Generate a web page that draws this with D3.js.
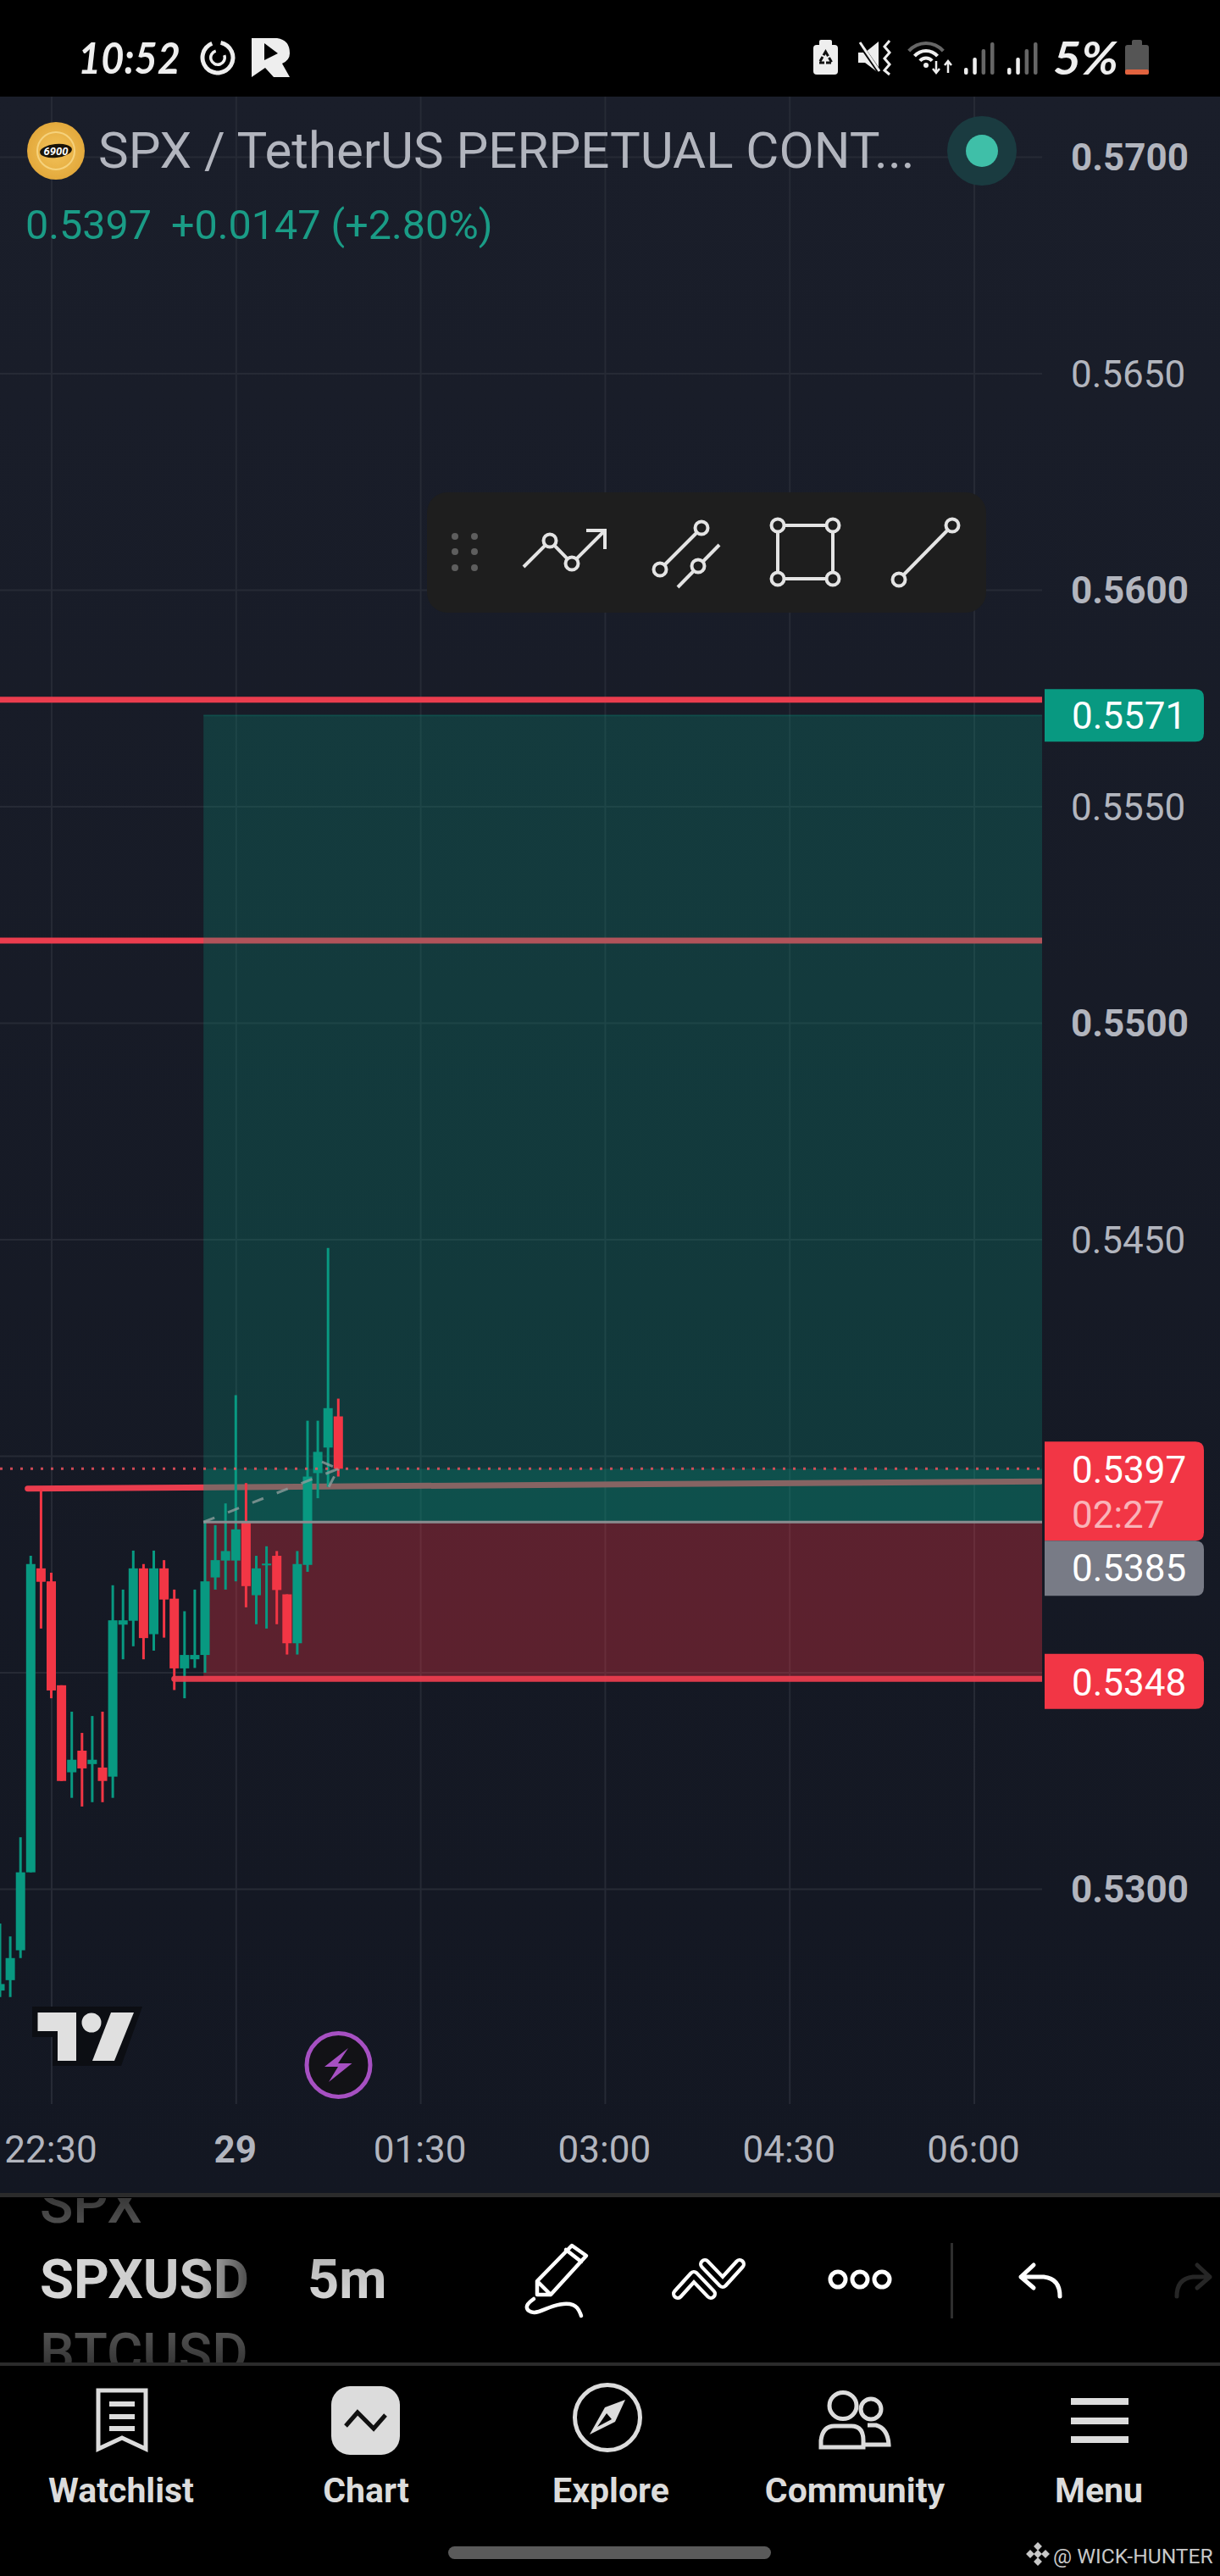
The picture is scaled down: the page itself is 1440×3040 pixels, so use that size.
<!DOCTYPE html>
<html>
<head>
<meta charset="utf-8">
<title>SPX / TetherUS</title>
<script src="https://cdn.jsdelivr.net/npm/d3@7"></script>
<style>
  html, body { margin: 0; padding: 0; background: #000; }
  svg { display: block; font-family: Roboto, sans-serif; }
</style>
</head>
<body>
<div id="chart"></div>
<script>
// candles, oldest first. first bar sits 5 bars left of the 22:30 tick
const firstBar = -5;
const opens = [0.52765, 0.52789, 0.52858, 0.53038, 0.53740, 0.53710, 0.53470, 0.53269, 0.53319, 0.53288, 0.53280, 0.53259,
  0.53610, 0.53619, 0.53740, 0.53588, 0.53740, 0.53670, 0.53509, 0.53530, 0.53540, 0.53719, 0.53758, 0.53758,
  0.53849, 0.53678, 0.53747, 0.53769, 0.53680, 0.53567, 0.53748, 0.53960, 0.54019, 0.54091];
const highs = [0.52920, 0.52890, 0.53119, 0.53769, 0.53924, 0.53730, 0.53470, 0.53409, 0.53360, 0.53399, 0.53409, 0.53701,
  0.53691, 0.53781, 0.53750, 0.53781, 0.53759, 0.53691, 0.53641, 0.53691, 0.53849, 0.53840, 0.53890, 0.54140,
  0.53937, 0.53769, 0.53791, 0.53780, 0.53680, 0.53780, 0.54081, 0.54081, 0.54480, 0.54132];
const lows = [0.52750, 0.52750, 0.52840, 0.53038, 0.53601, 0.53440, 0.53249, 0.53210, 0.53190, 0.53200, 0.53200, 0.53210,
  0.53530, 0.53560, 0.53530, 0.53550, 0.53580, 0.53459, 0.53440, 0.53510, 0.53499, 0.53691, 0.53691, 0.53710,
  0.53650, 0.53611, 0.53601, 0.53611, 0.53541, 0.53541, 0.53732, 0.53902, 0.53928, 0.53952];
const closes = [0.52780, 0.52840, 0.53038, 0.53750, 0.53709, 0.53458, 0.53249, 0.53298, 0.53278, 0.53298, 0.53249, 0.53620,
  0.53620, 0.53740, 0.53579, 0.53740, 0.53668, 0.53509, 0.53540, 0.53540, 0.53710, 0.53759, 0.53780, 0.53830,
  0.53699, 0.53740, 0.53751, 0.53690, 0.53567, 0.53750, 0.53952, 0.54009, 0.54110, 0.53970];

const priceTicks = [0.57, 0.565, 0.56, 0.555, 0.55, 0.545, 0.54, 0.535, 0.53];
const boldPrices = [0.57, 0.56, 0.55, 0.53];
const hiddenPrices = [0.54, 0.535]; // sit under the price tags
const timeTicks = [0, 18, 36, 54, 72, 90];
const timeLabels = ['22:30', '29', '01:30', '03:00', '04:30', '06:00'];

// drawn levels and long position tool
const levelLines = [0.55746, 0.5519];
const trendLine = [[-2.3, 0.53924], [96.5, 0.53941]];
const takeProfit = 0.5571;
const entry = 0.53847;
const stop = 0.53485;
const lastPrice = 0.5397;
const positionStart = 14.85;
const lastBar = 28;
const arrowWings = [[26.4, 0.53986], [27.07, 0.53928]];

const navLabels = ['Watchlist', 'Chart', 'Explore', 'Community', 'Menu'];
const navCenters = [143, 432, 721, 1009, 1297];

const GREEN = '#089981', RED = '#f23645', LINE_RED = '#ea3d4e', TEXT = '#b2b5be';
const W = 1440, H = 3040, plotRight = 1230, plotTop = 114, gridBottom = 2483;

const svg = d3.select('#chart').append('svg').attr('width', W).attr('height', H);
const defs = svg.append('defs');

const x = d3.scaleLinear().domain([0, 90]).range([60.5, 1149.5]);
const y = d3.scaleLinear().domain([0.53, 0.57]).range([2229, 185]);

function gradient(id, stops, x2, y2) {
    const g = defs.append('linearGradient').attr('id', id)
        .attr('x1', 0).attr('y1', 0).attr('x2', x2).attr('y2', y2);
    stops.forEach(s => g.append('stop').attr('offset', s[0]).attr('stop-color', s[1]));
}
gradient('bg', [[0, '#1a1e2a'], [1, '#131722']], 0, 1);
gradient('symbol', [[0, '#d8d8d8'], [0.75, '#c8c8c8'], [1, '#4a4a4a']], 1, 0);
gradient('interval', [[0, '#b0b0b0'], [1, '#dedede']], 0, 1);
gradient('dimTop', [[0, '#222'], [1, '#5a5a5a']], 0, 1);
gradient('dimBottom', [[0, '#5c5c5c'], [1, '#222']], 0, 1);
const coinGrad = defs.append('radialGradient').attr('id', 'coin');
coinGrad.append('stop').attr('offset', 0).attr('stop-color', '#f3c35a');
coinGrad.append('stop').attr('offset', 1).attr('stop-color', '#e3a93c');

defs.append('clipPath').attr('id', 'plotClip').append('rect')
    .attr('x', 0).attr('y', plotTop).attr('width', plotRight).attr('height', gridBottom - plotTop);
defs.append('clipPath').attr('id', 'pickerClip').append('rect')
    .attr('x', 0).attr('y', 2594).attr('width', 320).attr('height', 194);

// backgrounds
svg.append('rect').attr('width', W).attr('height', H).attr('fill', '#000');
svg.append('rect').attr('y', plotTop).attr('width', W).attr('height', 2589 - plotTop).attr('fill', 'url(#bg)');

// grid
const gridColor = '#262a35';
const hGrid = svg.append('g').call(d3.axisLeft(y).tickValues(priceTicks).tickSize(-plotRight).tickFormat(''));
const vGrid = svg.append('g').attr('transform', `translate(0,${gridBottom})`)
    .call(d3.axisBottom(x).tickValues(timeTicks).tickSize(-(gridBottom - plotTop)).tickFormat(''));
[hGrid, vGrid].forEach(g => {
    g.select('.domain').remove();
    g.selectAll('line').attr('stroke', gridColor).attr('stroke-width', 2);
});

// horizontal levels go under the position box, the box tints them
const plot = svg.append('g').attr('clip-path', 'url(#plotClip)');
plot.selectAll('.level').data(levelLines).join('line').attr('class', 'level')
    .attr('x1', 0).attr('x2', plotRight)
    .attr('y1', d => y(d)).attr('y2', d => y(d))
    .attr('stroke', LINE_RED).attr('stroke-width', 7);
plot.append('line')
    .attr('x1', x(trendLine[0][0])).attr('y1', y(trendLine[0][1]))
    .attr('x2', x(trendLine[1][0])).attr('y2', y(trendLine[1][1]))
    .attr('stroke', LINE_RED).attr('stroke-width', 7).attr('stroke-linecap', 'round');

// position box
const boxX = x(positionStart), boxW = plotRight - boxX;
function zone(p0, p1, color, alpha) {
    plot.append('rect').attr('x', boxX).attr('width', boxW)
        .attr('y', y(p0)).attr('height', y(p1) - y(p0))
        .attr('fill', color).attr('fill-opacity', alpha);
}
zone(takeProfit, entry, GREEN, 0.25);
zone(lastPrice, entry, GREEN, 0.25);
zone(entry, stop, RED, 0.32);
plot.append('line').attr('x1', boxX).attr('x2', plotRight)
    .attr('y1', y(takeProfit)).attr('y2', y(takeProfit))
    .attr('stroke', GREEN).attr('stroke-opacity', 0.25).attr('stroke-width', 2);

// candles
const bars = opens.map((o, i) => ({ i: firstBar + i, o, h: highs[i], l: lows[i], c: closes[i] }));
const color = d => d.c >= d.o ? GREEN : RED;
plot.selectAll('.wick').data(bars).join('line').attr('class', 'wick')
    .attr('x1', d => x(d.i)).attr('x2', d => x(d.i))
    .attr('y1', d => y(d.h)).attr('y2', d => y(d.l))
    .attr('stroke', color).attr('stroke-width', 3);
plot.selectAll('.body').data(bars).join('rect').attr('class', 'body')
    .attr('x', d => x(d.i) - 5.5).attr('width', 11)
    .attr('y', d => y(Math.max(d.o, d.c)))
    .attr('height', d => Math.max(2, Math.abs(y(d.o) - y(d.c))))
    .attr('fill', color);

// last price dots, entry and stop lines
plot.append('line').attr('x1', 0).attr('x2', plotRight)
    .attr('y1', y(lastPrice)).attr('y2', y(lastPrice))
    .attr('stroke', '#f0525e').attr('stroke-opacity', 0.85).attr('stroke-width', 3).attr('stroke-dasharray', '3 9');
plot.append('line').attr('x1', boxX).attr('x2', plotRight)
    .attr('y1', y(entry)).attr('y2', y(entry))
    .attr('stroke', '#8a8d90').attr('stroke-width', 3);
plot.append('line').attr('x1', x(12)).attr('x2', plotRight)
    .attr('y1', y(stop)).attr('y2', y(stop))
    .attr('stroke', LINE_RED).attr('stroke-opacity', 0.95).attr('stroke-width', 7).attr('stroke-linecap', 'round');

// dashed arrow from entry to last price
const priceLine = d3.line().x(d => x(d[0])).y(d => y(d[1]));
plot.append('path').attr('d', priceLine([[positionStart, entry], [lastBar, lastPrice]]))
    .attr('fill', 'none').attr('stroke', '#8d9c9b').attr('stroke-opacity', 0.8).attr('stroke-width', 3).attr('stroke-dasharray', '14 17');
arrowWings.forEach(w => {
    plot.append('path').attr('d', priceLine([w, [lastBar, lastPrice]]))
        .attr('fill', 'none').attr('stroke', '#8d9c9b').attr('stroke-opacity', 0.8).attr('stroke-width', 3).attr('stroke-dasharray', '14 8');
});

// price axis
const yAxis = svg.append('g').attr('transform', 'translate(1264,0)')
    .call(d3.axisRight(y).tickValues(priceTicks).tickSize(0).tickPadding(0)
        .tickFormat(d => hiddenPrices.includes(d) ? '' : d3.format('.4f')(d)));
yAxis.select('.domain').remove();
yAxis.selectAll('text')
    .attr('dy', '0.36em')
    .attr('fill', TEXT).attr('font-size', 44).attr('font-family', 'Roboto, sans-serif')
    .attr('font-weight', d => boldPrices.includes(d) ? 700 : 400);

// time axis
const xAxis = svg.append('g').attr('transform', 'translate(-1,2552)')
    .call(d3.axisBottom(x).tickValues(timeTicks).tickSize(0)
        .tickFormat((d, i) => timeLabels[i]));
xAxis.select('.domain').remove();
xAxis.selectAll('text')
    .attr('y', 0).attr('dy', 0)
    .attr('fill', TEXT).attr('font-size', 44).attr('font-family', 'Roboto, sans-serif')
    .attr('font-weight', d => d === 18 ? 700 : 400);

// price tags, square on the left, round on the right
function tag(y0, y1, fill) {
    const p = d3.path(), l = 1233, r = 1421, c = 10;
    p.moveTo(l, y0);
    p.lineTo(r - c, y0);
    p.quadraticCurveTo(r, y0, r, y0 + c);
    p.lineTo(r, y1 - c);
    p.quadraticCurveTo(r, y1, r - c, y1);
    p.lineTo(l, y1);
    p.closePath();
    svg.append('path').attr('d', p.toString()).attr('fill', fill);
}
function tagText(txt, base, fill) {
    svg.append('text').attr('x', 1265).attr('y', base).attr('font-size', 44).attr('fill', fill).text(txt);
}
const yLast = y(lastPrice);
tag(y(takeProfit) - 31, y(takeProfit) + 31, GREEN);
tagText('0.5571', y(takeProfit) + 16, '#fff');
tag(yLast - 32, yLast + 85, RED);
tag(yLast + 85, yLast + 150, '#787b86');
tag(y(0.5348) - 32, y(0.5348) + 33, RED);
tagText('0.5397', yLast + 17, '#fff');
tagText('02:27', yLast + 70, '#f9b3b8');
tagText('0.5385', yLast + 133, '#fff');
tagText('0.5348', y(0.5348) + 17, '#fff');

// legend
const coin = svg.append('g').attr('transform', 'translate(66,178)');
coin.append('circle').attr('r', 34).attr('fill', 'url(#coin)');
coin.append('circle').attr('r', 22).attr('fill', 'none').attr('stroke', '#f6d27c').attr('stroke-width', 2);
coin.append('ellipse').attr('rx', 19).attr('ry', 8).attr('transform', 'rotate(-6)').attr('fill', '#1a1408');
coin.append('text').attr('text-anchor', 'middle').attr('y', 5).attr('font-size', 13).attr('font-weight', 700)
    .attr('font-style', 'italic').attr('fill', '#fff').text('6900');
svg.append('text').attr('x', 116).attr('y', 198).attr('font-size', 60).attr('fill', TEXT)
    .text('SPX / TetherUS PERPETUAL CONT...');
svg.append('text').attr('x', 30).attr('y', 282).attr('font-size', 48.5).attr('fill', '#1a9c86')
    .text('0.5397');
svg.append('text').attr('x', 202).attr('y', 282).attr('font-size', 48.5).attr('fill', '#1a9c86')
    .text('+0.0147 (+2.80%)');
svg.append('circle').attr('cx', 1159).attr('cy', 178).attr('r', 41).attr('fill', '#1a3b40');
svg.append('circle').attr('cx', 1159).attr('cy', 178).attr('r', 19).attr('fill', '#3fbfa8');

// drawing toolbar
const tools = svg.append('g');
tools.append('rect').attr('x', 504).attr('y', 581).attr('width', 660).attr('height', 142).attr('rx', 24).attr('fill', '#1e1e1e');
[537, 560].forEach(cx => [633, 651, 670].forEach(cy => {
    tools.append('circle').attr('cx', cx).attr('cy', cy).attr('r', 4).attr('fill', '#5e5e5e');
}));
const toolStroke = g => g.attr('fill', 'none').attr('stroke', '#e4e4e4').attr('stroke-width', 4);
function polyline(parent, pts) {
    return parent.append('path').attr('d', d3.line()(pts)).call(toolStroke);
}
function knob(cx, cy) {
    tools.append('circle').attr('cx', cx).attr('cy', cy).attr('r', 7.5).attr('fill', '#1e1e1e')
        .attr('stroke', '#e4e4e4').attr('stroke-width', 4);
}
polyline(tools, [[618, 669], [649, 638], [675, 665], [714, 626]]);
polyline(tools, [[692, 626], [714, 626], [714, 648]]);
knob(649, 638); knob(675, 665);
polyline(tools, [[779, 672], [828, 623]]);
polyline(tools, [[800, 693], [849, 643]]);
knob(779, 672); knob(828, 623); knob(824, 668);
polyline(tools, [[918, 620], [983, 620], [983, 683], [918, 683], [918, 620]]);
knob(918, 620); knob(983, 620); knob(918, 683); knob(983, 683);
polyline(tools, [[1061, 684], [1124, 620]]);
knob(1061, 684); knob(1124, 620);

// tradingview mark and lightning button
const tv = svg.append('g');
tv.append('path').attr('d', 'M38 2368H168L143 2438H62V2404H38Z').attr('fill', '#0c0e13');
tv.append('path').attr('d', 'M44.5 2375H90V2432H68V2397H44.5Z').attr('fill', '#e0e0e0');
tv.append('circle').attr('cx', 108).attr('cy', 2387).attr('r', 11.5).attr('fill', '#e0e0e0');
tv.append('path').attr('d', 'M131 2375H158L135 2432H109Z').attr('fill', '#e0e0e0');
svg.append('circle').attr('cx', 399.5).attr('cy', 2437).attr('r', 37.5)
    .attr('fill', '#121216').attr('stroke', '#a650c2').attr('stroke-width', 5);
svg.append('path').attr('d', 'M411 2417L383 2439H399L388 2457L415.5 2435H399Z').attr('fill', '#a650c2');

// bottom bars
svg.append('rect').attr('y', 2588).attr('width', W).attr('height', 5).attr('fill', '#2b2b2b');
svg.append('rect').attr('y', 2788).attr('width', W).attr('height', 4).attr('fill', '#2b2b2b');

const picker = svg.append('g').attr('clip-path', 'url(#pickerClip)').attr('font-size', 65).attr('font-weight', 700);
picker.append('text').attr('x', 47).attr('y', 2623).attr('font-weight', 500).attr('fill', 'url(#dimTop)').text('SPX');
picker.append('text').attr('x', 47).attr('y', 2799).attr('font-weight', 500).attr('fill', 'url(#dimBottom)').text('BTCUSD');
svg.append('text').attr('x', 47).attr('y', 2712).attr('font-size', 65).attr('font-weight', 700)
    .attr('fill', 'url(#symbol)').text('SPXUSD');
svg.append('text').attr('x', 363).attr('y', 2712).attr('font-size', 65).attr('font-weight', 700)
    .attr('fill', 'url(#interval)').text('5m');

// bottom toolbar icons
const iconStroke = (g, col, w) => g.attr('fill', 'none').attr('stroke', col).attr('stroke-width', w)
    .attr('stroke-linecap', 'round').attr('stroke-linejoin', 'round');
const bar = svg.append('g');
bar.append('path').attr('d', 'M634 2708V2692L675 2650L692 2662L650 2708ZM634 2692L650 2708M668 2655L686 2669')
    .call(iconStroke, '#fff', 4.5);
bar.append('path').attr('d', d3.line().curve(d3.curveBasis)([[686, 2733], [680, 2717], [652, 2720], [629, 2733], [618, 2722], [630, 2713]]))
    .call(iconStroke, '#fff', 4.5);
const chevrons = [[[800, 2707], [819, 2686], [839, 2707]], [[832, 2672], [853, 2694], [873, 2672]]];
chevrons.forEach(pts => {
    bar.append('path').attr('d', d3.line()(pts)).call(iconStroke, '#fff', 14);
});
chevrons.forEach(pts => {
    bar.append('path').attr('d', d3.line()(pts)).call(iconStroke, '#000', 5.5);
});
[989, 1015, 1041].forEach(cx => {
    bar.append('circle').attr('cx', cx).attr('cy', 2690).attr('r', 9).call(iconStroke, '#fff', 5);
});
bar.append('rect').attr('x', 1122).attr('y', 2647).attr('width', 3).attr('height', 89).attr('fill', '#2e2e2e');
bar.append('path').attr('d', 'M1220 2673L1205 2687L1220 2700M1205 2687H1232Q1251 2689 1251 2710').call(iconStroke, '#fff', 5);
bar.append('path').attr('d', 'M1413 2673L1428 2687L1413 2700M1428 2687H1408Q1389 2689 1389 2710').call(iconStroke, '#262626', 5);

// nav bar
const navCol = '#dcdcdc';
const nav = svg.append('g');
nav.selectAll('text').data(navLabels).join('text')
    .attr('x', (d, i) => navCenters[i]).attr('y', 2953)
    .attr('text-anchor', 'middle').attr('font-size', 41).attr('font-weight', 700)
    .attr('fill', navCol).text(d => d);
nav.append('path').attr('d', 'M116 2821H172V2890L144 2877L116 2890Z').attr('fill', 'none').attr('stroke', navCol).attr('stroke-width', 5);
[2837, 2852, 2866].forEach(ly => {
    nav.append('rect').attr('x', 129).attr('y', ly - 3).attr('width', 30).attr('height', 6).attr('fill', navCol);
});
nav.append('rect').attr('x', 391).attr('y', 2816).attr('width', 81).attr('height', 81).attr('rx', 22).attr('fill', navCol);
nav.append('path').attr('d', d3.line()([[408, 2863], [422, 2847], [441, 2866], [455, 2850]]))
    .attr('fill', 'none').attr('stroke', '#111').attr('stroke-width', 5);
nav.append('circle').attr('cx', 717).attr('cy', 2853).attr('r', 38.5).attr('fill', 'none').attr('stroke', navCol).attr('stroke-width', 5);
nav.append('path').attr('d', 'M738 2832L714 2841L696 2873L726 2858Z').attr('fill', navCol);
nav.append('path').attr('d', 'M716 2848L705 2864L722 2855Z').attr('fill', '#000');
nav.append('ellipse').attr('cx', 995).attr('cy', 2839).attr('rx', 16).attr('ry', 15.5).attr('fill', 'none').attr('stroke', navCol).attr('stroke-width', 5);
nav.append('ellipse').attr('cx', 1028).attr('cy', 2843).attr('rx', 12).attr('ry', 12).attr('fill', 'none').attr('stroke', navCol).attr('stroke-width', 5);
nav.append('path').attr('d', 'M969 2888V2880Q971 2863 985 2863H1005Q1019 2863 1019 2880V2888Z').attr('fill', 'none').attr('stroke', navCol).attr('stroke-width', 5);
nav.append('path').attr('d', 'M1024 2862H1034Q1048 2866 1049 2885H1020').attr('fill', 'none').attr('stroke', navCol).attr('stroke-width', 5);
[2830, 2853, 2875].forEach(ly => {
    nav.append('rect').attr('x', 1264).attr('y', ly).attr('width', 68).attr('height', 8).attr('fill', navCol);
});

// home pill and watermark
svg.append('rect').attr('x', 529).attr('y', 3005).attr('width', 381).attr('height', 15).attr('rx', 7.5).attr('fill', '#5a5a5a');
[[1225, 3005], [1216, 3014], [1234, 3014], [1225, 3023], [1225, 3014]].forEach(c => {
    svg.append('rect').attr('x', c[0] - 3.5).attr('y', c[1] - 3.5).attr('width', 7).attr('height', 7)
        .attr('transform', `rotate(45 ${c[0]} ${c[1]})`).attr('fill', '#c8c8c8');
});
svg.append('text').attr('x', 1243).attr('y', 3025).attr('font-size', 24.6).attr('fill', '#c8c8c8').text('@ WICK-HUNTER');

// status bar
const statusBar = svg.append('g');
statusBar.append('text').attr('x', 92).attr('y', 87).attr('font-size', 52).attr('font-style', 'italic').attr('font-weight', 700)
    .attr('font-family', 'Lato, sans-serif').attr('textLength', 121).attr('lengthAdjust', 'spacingAndGlyphs')
    .attr('fill', '#eee').text('10:52');
statusBar.append('path').attr('d', d3.arc()({ innerRadius: 15.5, outerRadius: 20.5, startAngle: 0.2, endAngle: 5.9 }))
    .attr('transform', 'translate(257,68)').attr('fill', '#eee');
statusBar.append('path').attr('d', d3.arc()({ innerRadius: 6.5, outerRadius: 10, startAngle: 1.2, endAngle: 6 }))
    .attr('transform', 'translate(257,68)').attr('fill', '#eee');
statusBar.append('path').attr('d', 'M297 45H327Q342 47 342 63Q342 71 333 75L342 91H323L313 80L297 91ZM312 51V71L328 63Z')
    .attr('fill', '#eee').attr('fill-rule', 'evenodd');

statusBar.append('rect').attr('x', 967).attr('y', 47).attr('width', 15).attr('height', 10).attr('rx', 2).attr('fill', '#eee');
statusBar.append('rect').attr('x', 960).attr('y', 53).attr('width', 29).attr('height', 35).attr('rx', 4).attr('fill', '#eee');
statusBar.append('path').attr('d', 'M974.5 61L982 74H967Z').attr('fill', 'none').attr('stroke', '#111').attr('stroke-width', 3).attr('stroke-dasharray', '6 2');

statusBar.append('path').attr('d', 'M1013 62H1021L1037 49V86L1021 74H1013Z').attr('fill', '#eee');
statusBar.append('line').attr('x1', 1013).attr('y1', 49).attr('x2', 1040).attr('y2', 88).attr('stroke', '#000').attr('stroke-width', 5);
statusBar.append('line').attr('x1', 1015).attr('y1', 50).attr('x2', 1038).attr('y2', 84).attr('stroke', '#eee').attr('stroke-width', 3);
statusBar.append('path').attr('d', 'M1050 48L1044 55L1050 62L1044 69L1050 76L1044 83L1050 88')
    .attr('fill', 'none').attr('stroke', '#eee').attr('stroke-width', 3);

const wifi = statusBar.append('g').attr('transform', 'translate(1093,78)');
[[27, '#666'], [18, '#eee'], [9.5, '#eee']].forEach(a => {
    wifi.append('path').attr('d', d3.arc()({ innerRadius: a[0] - 2, outerRadius: a[0] + 2, startAngle: -0.85, endAngle: 0.85 })).attr('fill', a[1]);
});
wifi.append('circle').attr('cy', -1).attr('r', 3).attr('fill', '#eee');
statusBar.append('path').attr('d', 'M1105 72V86M1101 81L1105 86L1109 81M1119 86V72M1115 77L1119 72L1123 77')
    .attr('fill', 'none').attr('stroke', '#eee').attr('stroke-width', 2.5);

[1138, 1189].forEach(x0 => {
    [[0, 80], [10.3, 68], [20.6, 58], [31, 50]].forEach((b, i) => {
        statusBar.append('rect').attr('x', x0 + b[0]).attr('y', b[1]).attr('width', 4.5).attr('height', 88 - b[1]).attr('rx', 2)
            .attr('fill', i < 2 ? '#eee' : '#666');
    });
});
statusBar.append('text').attr('x', 1243).attr('y', 88).attr('font-size', 54).attr('font-style', 'italic').attr('font-weight', 700)
    .attr('font-family', 'Lato, sans-serif').attr('textLength', 77).attr('lengthAdjust', 'spacingAndGlyphs')
    .attr('fill', '#eee').text('5%');
statusBar.append('rect').attr('x', 1336).attr('y', 47).attr('width', 12).attr('height', 8).attr('rx', 2).attr('fill', '#555');
statusBar.append('rect').attr('x', 1328).attr('y', 53).attr('width', 28).attr('height', 35).attr('rx', 3).attr('fill', '#555');
statusBar.append('rect').attr('x', 1328).attr('y', 82).attr('width', 28).attr('height', 6).attr('rx', 2).attr('fill', '#e2633f');
</script>
</body>
</html>
